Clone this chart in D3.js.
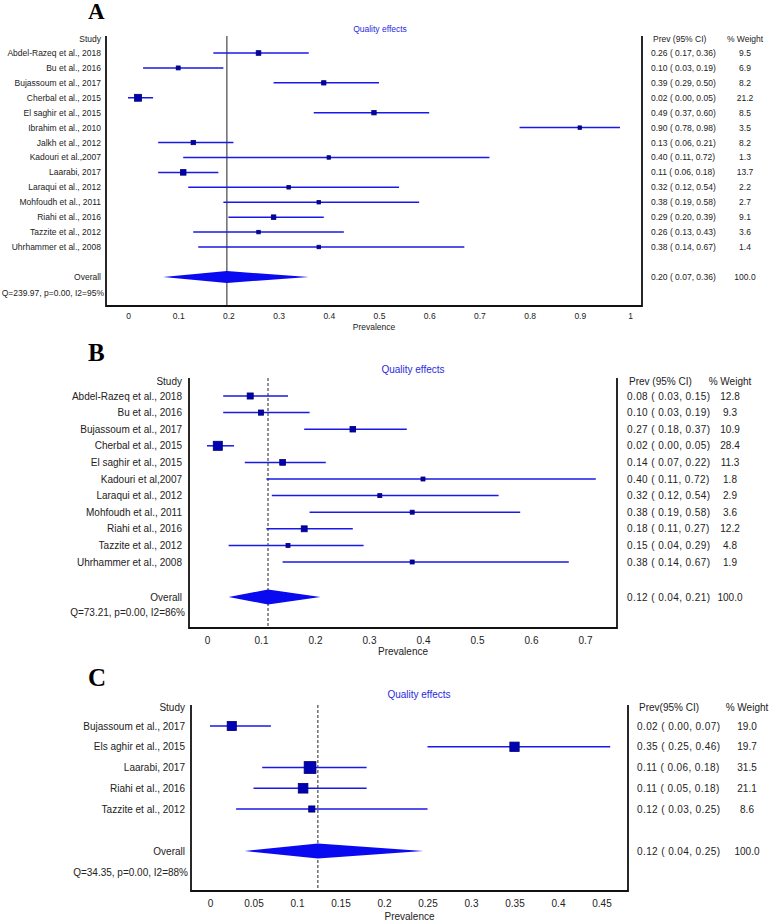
<!DOCTYPE html>
<html lang="en">
<head>
<meta charset="UTF-8">
<title>Forest plots - prevalence</title>
<script src="https://d3js.org/d3.v7.min.js"></script>
<style>
    body { margin: 0; background: white; }
    text { font-family: "Liberation Sans", Arial, sans-serif; }
</style>
</head>
<body>
<script>
    // ---- Panel A ----
    var studiesA = ["Abdel-Razeq et al., 2018", "Bu et al., 2016", "Bujassoum et al., 2017", "Cherbal et al., 2015",
        "El saghir et al., 2015", "Ibrahim et al., 2010", "Jalkh et al., 2012", "Kadouri et al.,2007", "Laarabi, 2017",
        "Laraqui et al., 2012", "Mohfoudh et al., 2011", "Riahi et al., 2016", "Tazzite et al., 2012", "Uhrhammer et al., 2008"];
    var prevA = [0.26, 0.10, 0.39, 0.02, 0.49, 0.90, 0.13, 0.40, 0.11, 0.32, 0.38, 0.29, 0.26, 0.38];
    var lowA = [0.17, 0.03, 0.29, 0.00, 0.37, 0.78, 0.06, 0.11, 0.06, 0.12, 0.19, 0.20, 0.13, 0.14];
    var highA = [0.36, 0.19, 0.50, 0.05, 0.60, 0.98, 0.21, 0.72, 0.18, 0.54, 0.58, 0.39, 0.43, 0.67];
    var weightA = ["9.5", "6.9", "8.2", "21.2", "8.5", "3.5", "8.2", "1.3", "13.7", "2.2", "2.7", "9.1", "3.6", "1.4"];
    var overallA = [0.197, 0.07, 0.36];
    var overallTextA = "0.20 ( 0.07, 0.36)";
    var statsA = "Q=239.97, p=0.00, I2=95%";
    var ticksA = [0, 0.1, 0.2, 0.3, 0.4, 0.5, 0.6, 0.7, 0.8, 0.9, 1];

    // ---- Panel B ----
    var studiesB = ["Abdel-Razeq et al., 2018", "Bu et al., 2016", "Bujassoum et al., 2017", "Cherbal et al., 2015",
        "El saghir et al., 2015", "Kadouri et al,2007", "Laraqui et al., 2012", "Mohfoudh et al., 2011",
        "Riahi et al., 2016", "Tazzite et al., 2012", "Uhrhammer et al., 2008"];
    var prevB = [0.08, 0.10, 0.27, 0.02, 0.14, 0.40, 0.32, 0.38, 0.18, 0.15, 0.38];
    var lowB = [0.03, 0.03, 0.18, 0.00, 0.07, 0.11, 0.12, 0.19, 0.11, 0.04, 0.14];
    var highB = [0.15, 0.19, 0.37, 0.05, 0.22, 0.72, 0.54, 0.58, 0.27, 0.29, 0.67];
    var weightB = ["12.8", "9.3", "10.9", "28.4", "11.3", "1.8", "2.9", "3.6", "12.2", "4.8", "1.9"];
    var overallB = [0.113, 0.04, 0.21];
    var overallTextB = "0.12 ( 0.04, 0.21)";
    var statsB = "Q=73.21, p=0.00, I2=86%";
    var ticksB = [0, 0.1, 0.2, 0.3, 0.4, 0.5, 0.6, 0.7];

    // ---- Panel C ----
    var studiesC = ["Bujassoum et al., 2017", "Els aghir et al., 2015", "Laarabi, 2017", "Riahi et al., 2016", "Tazzite et al., 2012"];
    var prevC = [0.025, 0.35, 0.115, 0.107, 0.117];
    var lowC = [0.00, 0.25, 0.06, 0.05, 0.03];
    var highC = [0.07, 0.46, 0.18, 0.18, 0.25];
    var labelPrevC = [0.02, 0.35, 0.11, 0.11, 0.12];
    var weightC = ["19.0", "19.7", "31.5", "21.1", "8.6"];
    var overallC = [0.124, 0.04, 0.245];
    var overallTextC = "0.12 ( 0.04, 0.25)";
    var statsC = "Q=34.35, p=0.00, I2=88%";
    var ticksC = [0, 0.05, 0.1, 0.15, 0.2, 0.25, 0.3, 0.35, 0.4, 0.45];

    var lineBlue = "#1a1ae6", boxFill = "#0000b4", boxStroke = "#00006a", diamondBlue = "#0a0af0";

    var svg = d3.select("body").append("svg")
        .attr("width", 778)
        .attr("height", 920);

    function ci(p, l, h) {
        return p.toFixed(2) + " ( " + l.toFixed(2) + ", " + h.toFixed(2) + ")";
    }

    function drawPanel(g, c) {
        var x = d3.scaleLinear().domain(c.domain).range(c.range);
        var n = c.studies.length;
        var y = d3.scaleLinear().domain([0, n - 1]).range([c.rowFirst, c.rowLast]);
        var fs = c.fontSize + "px";

        // panel letter
        g.append("text").attr("x", 88).attr("y", c.letterY)
            .style("font-family", "'Liberation Serif', 'Times New Roman', serif")
            .style("font-weight", "bold").style("font-size", c.letterSize).text(c.letter);

        g.append("text").attr("x", c.titleX).attr("y", c.titleY)
            .attr("text-anchor", "middle").attr("dominant-baseline", "central")
            .style("font-size", fs).attr("fill", "#2a2ae0").text("Quality effects");

        // reference line at pooled estimate
        g.append("line")
            .attr("x1", x(c.overall[0])).attr("x2", x(c.overall[0]))
            .attr("y1", c.boxTop).attr("y2", c.boxBottom)
            .attr("stroke", "#222").attr("stroke-width", 1)
            .attr("stroke-dasharray", c.dash);

        // frame
        g.append("path")
            .attr("d", "M" + c.boxLeft + "," + c.boxTop + "V" + c.boxBottom + "H" + c.boxRight + "V" + c.boxTop)
            .attr("fill", "none").attr("stroke", "#111").attr("stroke-width", 1.8);

        // axis
        var axis = d3.axisBottom(x).tickValues(c.ticks).tickSize(0).tickFormat(function(d) { return String(d); });
        var ax = g.append("g").attr("transform", "translate(0," + (c.tickY - 6) + ")").call(axis);
        ax.select(".domain").remove();
        ax.selectAll("text").attr("dy", 0).attr("y", 6).attr("dominant-baseline", "central")
            .style("font-size", fs).attr("fill", "#222").style("font-family", "'Liberation Sans', Arial, sans-serif");

        g.append("text").attr("x", (c.boxLeft + c.boxRight) / 2).attr("y", c.xlabelY)
            .attr("text-anchor", "middle").attr("dominant-baseline", "central")
            .style("font-size", fs).attr("fill", "#222").text("Prevalence");

        // headers
        g.append("text").attr("x", c.labelX).attr("y", c.headerY).attr("text-anchor", "end")
            .attr("dominant-baseline", "central").style("font-size", fs).attr("fill", "#222").text("Study");
        g.append("text").attr("x", c.ciX + 2).attr("y", c.headerY).attr("dominant-baseline", "central")
            .style("font-size", fs).attr("fill", "#222").text(c.ciHeader);
        g.append("text").attr("x", c.wtX).attr("y", c.headerY).attr("text-anchor", "middle")
            .attr("dominant-baseline", "central").style("font-size", fs).attr("fill", "#222").text("% Weight");

        var rows = d3.range(n);

        g.selectAll(".lbl").data(rows).enter().append("text")
            .attr("x", c.labelX).attr("y", function(i) { return y(i); })
            .attr("text-anchor", "end").attr("dominant-baseline", "central")
            .style("font-size", fs).attr("fill", "#222")
            .text(function(i) { return c.studies[i]; });

        g.selectAll(".ci").data(rows).enter().append("line")
            .attr("x1", function(i) { return x(c.low[i]); })
            .attr("x2", function(i) { return x(c.high[i]); })
            .attr("y1", function(i) { return y(i); })
            .attr("y2", function(i) { return y(i); })
            .attr("stroke", lineBlue).attr("stroke-width", 1.5);

        g.selectAll(".sq").data(rows).enter().append("rect")
            .each(function(i) {
                var s = Math.max(c.minSq, c.sqK * Math.sqrt(+c.weight[i]));
                d3.select(this).attr("x", x(c.prev[i]) - s / 2).attr("y", y(i) - s / 2)
                    .attr("width", s).attr("height", s);
            })
            .attr("fill", boxFill).attr("stroke", boxStroke).attr("stroke-width", 0.8);

        g.selectAll(".citxt").data(rows).enter().append("text")
            .attr("x", c.ciX).attr("y", function(i) { return y(i); })
            .attr("dominant-baseline", "central").style("font-size", fs).attr("fill", "#222")
            .style("white-space", "pre").style("letter-spacing", c.spacing)
            .text(function(i) { return ci(c.labelPrev[i], c.low[i], c.high[i]); });

        g.selectAll(".wt").data(rows).enter().append("text")
            .attr("x", c.wtX).attr("y", function(i) { return y(i); })
            .attr("text-anchor", "middle").attr("dominant-baseline", "central")
            .style("font-size", fs).attr("fill", "#222")
            .text(function(i) { return c.weight[i]; });

        // overall
        var h = c.diamondHalf;
        g.append("path")
            .attr("d", "M" + x(c.overall[1]) + "," + c.overallY + "L" + x(c.overall[0]) + "," + (c.overallY - h) +
                "L" + x(c.overall[2]) + "," + c.overallY + "L" + x(c.overall[0]) + "," + (c.overallY + h) + "Z")
            .attr("fill", diamondBlue);
        g.append("text").attr("x", c.labelX).attr("y", c.overallY).attr("text-anchor", "end")
            .attr("dominant-baseline", "central").style("font-size", fs).attr("fill", "#222").text("Overall");
        g.append("text").attr("x", c.labelX + 3).attr("y", c.statsY).attr("text-anchor", "end")
            .attr("dominant-baseline", "central").style("font-size", fs).attr("fill", "#222").text(c.stats);
        g.append("text").attr("x", c.ciX).attr("y", c.overallY).attr("dominant-baseline", "central")
            .style("font-size", fs).attr("fill", "#222").style("white-space", "pre").style("letter-spacing", c.spacing)
            .text(c.overallText);
        g.append("text").attr("x", c.wtX).attr("y", c.overallY).attr("text-anchor", "middle")
            .attr("dominant-baseline", "central").style("font-size", fs).attr("fill", "#222").text("100.0");
    }

    drawPanel(svg.append("g"), {
        letter: "A", letterY: 19, letterSize: "23px", titleX: 380, titleY: 29,
        studies: studiesA, prev: prevA, labelPrev: prevA, low: lowA, high: highA, weight: weightA,
        overall: overallA, overallText: overallTextA, stats: statsA, ticks: ticksA,
        domain: [0, 1], range: [128, 630], rowFirst: 53, rowLast: 247, overallY: 277, statsY: 293,
        boxLeft: 106, boxRight: 642, boxTop: 36, boxBottom: 306,
        labelX: 101, headerY: 39, ciX: 651, wtX: 745, ciHeader: "Prev (95% CI)",
        tickY: 316, xlabelY: 327, fontSize: 8.5, diamondHalf: 6, sqK: 1.5, minSq: 3.5,
        dash: null, spacing: "0px"
    });

    drawPanel(svg.append("g"), {
        letter: "B", letterY: 361, letterSize: "25px", titleX: 413, titleY: 369,
        studies: studiesB, prev: prevB, labelPrev: prevB, low: lowB, high: highB, weight: weightB,
        overall: overallB, overallText: overallTextB, stats: statsB, ticks: ticksB,
        domain: [0, 0.7], range: [207, 585], rowFirst: 396, rowLast: 562, overallY: 597, statsY: 612,
        boxLeft: 189, boxRight: 617, boxTop: 378, boxBottom: 628,
        labelX: 182, headerY: 381, ciX: 627, wtX: 730, ciHeader: "Prev (95% CI)",
        tickY: 640, xlabelY: 651, fontSize: 10, diamondHalf: 7.5, sqK: 1.7, minSq: 4,
        dash: "3,2", spacing: "0.4px"
    });

    drawPanel(svg.append("g"), {
        letter: "C", letterY: 686, letterSize: "25px", titleX: 419, titleY: 694,
        studies: studiesC, prev: prevC, labelPrev: labelPrevC, low: lowC, high: highC, weight: weightC,
        overall: overallC, overallText: overallTextC, stats: statsC, ticks: ticksC,
        domain: [0, 0.45], range: [210, 601.5], rowFirst: 726, rowLast: 809, overallY: 851, statsY: 872,
        boxLeft: 191, boxRight: 628, boxTop: 705, boxBottom: 891,
        labelX: 185, headerY: 707, ciX: 637, wtX: 747, ciHeader: "Prev(95% CI)",
        tickY: 903, xlabelY: 916, fontSize: 10, diamondHalf: 7.5, sqK: 2.1, minSq: 4,
        dash: "3,2", spacing: "0.4px"
    });
</script>
</body>
</html>
